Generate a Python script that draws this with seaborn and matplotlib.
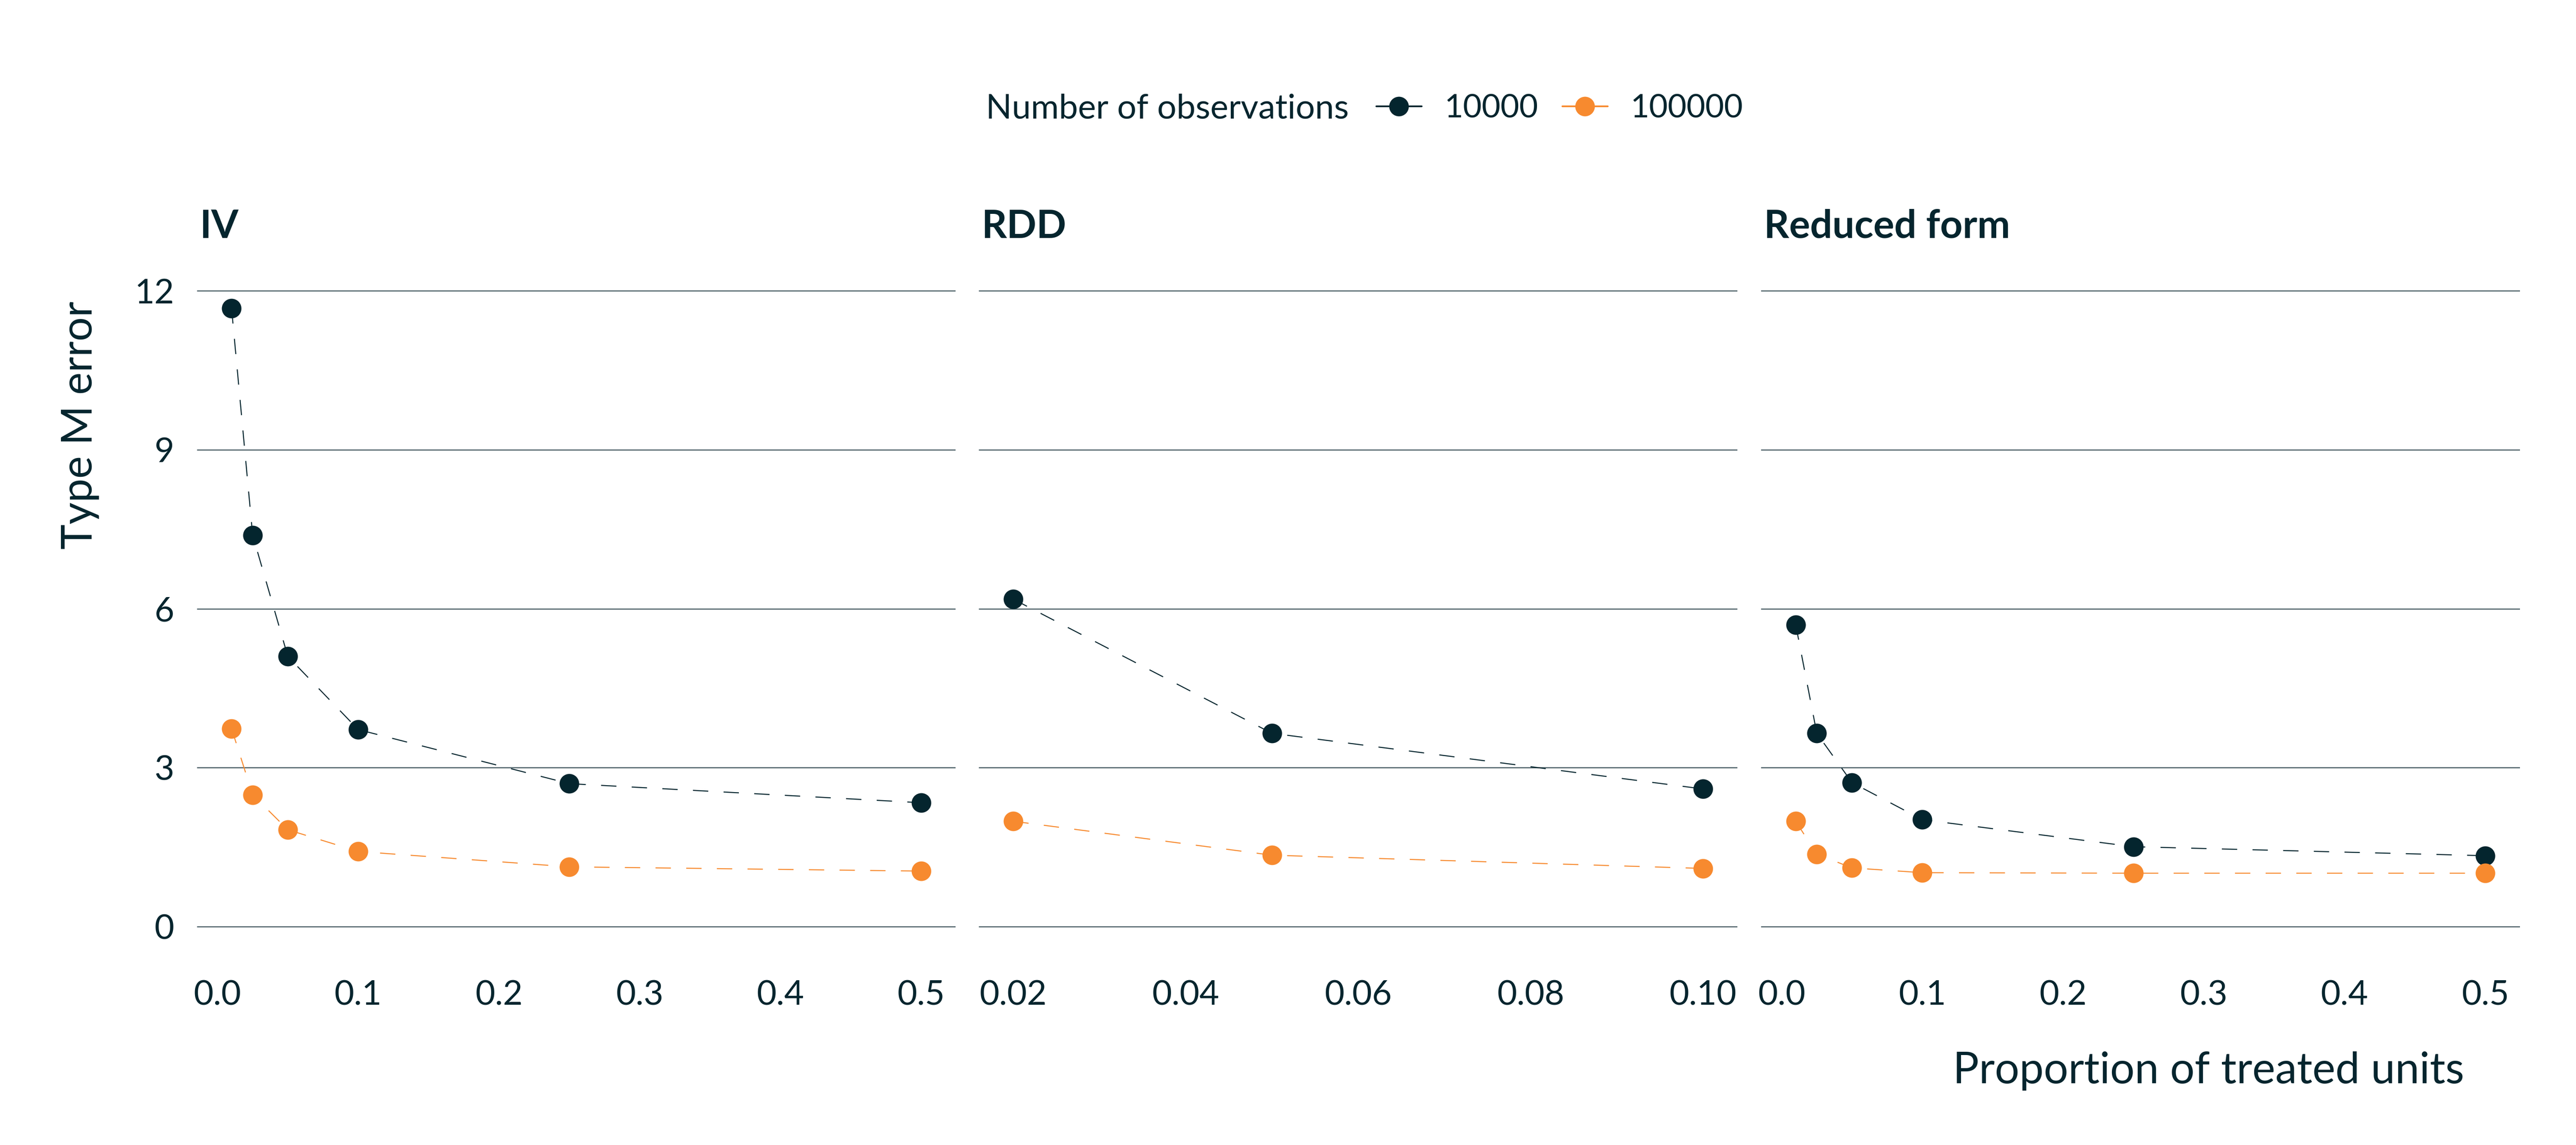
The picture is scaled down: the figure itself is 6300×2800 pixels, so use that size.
import pandas as pd
import matplotlib
matplotlib.use("Agg")
import matplotlib.pyplot as plt
from matplotlib.lines import Line2D
import seaborn as sns

sns.set_style("white")
plt.rcParams['font.family'] = ['Lato', 'DejaVu Sans']
plt.rcParams['lines.scale_dashes'] = False

INK = '#05252e'
GRID = '#3f545c'

# --- data ---
methods = ['IV', 'RDD', 'Reduced form']
n_obs = ['10000', '100000']
colors = ['#04252e', '#f78a2f']

iv_prop = [0.01, 0.025, 0.05, 0.1, 0.25, 0.5]
iv_10k = [11.67, 7.39, 5.10, 3.72, 2.70, 2.34]
iv_100k = [3.74, 2.49, 1.83, 1.42, 1.13, 1.05]

rdd_prop = [0.02, 0.05, 0.10]
rdd_10k = [6.18, 3.65, 2.60]
rdd_100k = [1.99, 1.35, 1.10]

rf_prop = [0.01, 0.025, 0.05, 0.1, 0.25, 0.5]
rf_10k = [5.70, 3.65, 2.72, 2.02, 1.51, 1.34]
rf_100k = [1.99, 1.37, 1.11, 1.02, 1.01, 1.01]

x_ticks = {
    'IV': [0.0, 0.1, 0.2, 0.3, 0.4, 0.5],
    'RDD': [0.02, 0.04, 0.06, 0.08, 0.10],
    'Reduced form': [0.0, 0.1, 0.2, 0.3, 0.4, 0.5],
}
x_fmt = {'IV': '{:.1f}', 'RDD': '{:.2f}', 'Reduced form': '{:.1f}'}
y_ticks = [0, 3, 6, 9, 12]

rows = []
for method, prop, s1, s2 in [('IV', iv_prop, iv_10k, iv_100k),
                             ('RDD', rdd_prop, rdd_10k, rdd_100k),
                             ('Reduced form', rf_prop, rf_10k, rf_100k)]:
    for n, vals in zip(n_obs, [s1, s2]):
        for p, v in zip(prop, vals):
            rows.append({'method': method, 'n': n, 'prop': p, 'type_m': v})
df = pd.DataFrame(rows)
palette = dict(zip(n_obs, colors))

fig = plt.figure(figsize=(21, 28 / 3), dpi=300)

lefts = [0.0765, 0.380, 0.6837]
width, bottom, height = 0.2945, 0.1636, 0.594
msize = 11.5

for i, method in enumerate(methods):
    ax = fig.add_axes([lefts[i], bottom, width, height])
    sub = df[df['method'] == method]
    sns.lineplot(data=sub, x='prop', y='type_m', hue='n', hue_order=n_obs,
                 palette=palette, marker='o', markersize=msize,
                 markeredgewidth=0, linewidth=0.6, linestyle=(0, (9, 9)),
                 errorbar=None, legend=False, ax=ax)

    xmin, xmax = sub['prop'].min(), sub['prop'].max()
    pad = 0.05 * (xmax - xmin)
    ax.set_xlim(xmin - pad, xmax + pad)
    ax.set_ylim(-0.584, 12.25)

    ax.set_xticks(x_ticks[method])
    ax.set_xticklabels([x_fmt[method].format(t) for t in x_ticks[method]])
    ax.set_yticks(y_ticks)
    ax.set_yticklabels([str(t) for t in y_ticks] if i == 0 else [])

    for s in ax.spines.values():
        s.set_visible(False)
    ax.grid(False)
    ax.yaxis.grid(True, color=GRID, linewidth=0.6)
    ax.set_axisbelow(True)
    ax.tick_params(axis='x', length=7.2, width=0.4, color=INK, pad=5.8,
                   labelsize=20, labelcolor=INK)
    ax.tick_params(axis='y', length=0, pad=13.4, labelsize=20, labelcolor=INK)
    ax.set_xlabel('')
    ax.set_ylabel('')

    fig.text(lefts[i] + 0.001, 0.802, method, ha='left', va='center',
             fontsize=23, fontweight='bold', color=INK)

fig.text(0.031, 0.737, 'Type M error', rotation=90, ha='center', va='top',
         fontsize=25, color=INK)
fig.text(0.9566, 0.0646, 'Proportion of treated units', ha='right',
         va='center', fontsize=25.5, color=INK)

# legend on top, title to the left of the keys
fig.text(0.3827, 0.905, 'Number of observations', ha='left', va='center',
         fontsize=20, color=INK)
handles = [Line2D([0], [0], color=c, marker='o', markersize=msize,
                  markeredgewidth=0, linewidth=1.0) for c in colors]
fig.legend(handles, n_obs, loc='center left', bbox_to_anchor=(3366 / 6300, 0.905),
           ncol=2, frameon=False, handlelength=1.4, handletextpad=0.7,
           columnspacing=0.75, borderpad=0, borderaxespad=0, fontsize=19,
           labelcolor=INK)

fig.savefig('out.png', dpi=300, facecolor='white')
